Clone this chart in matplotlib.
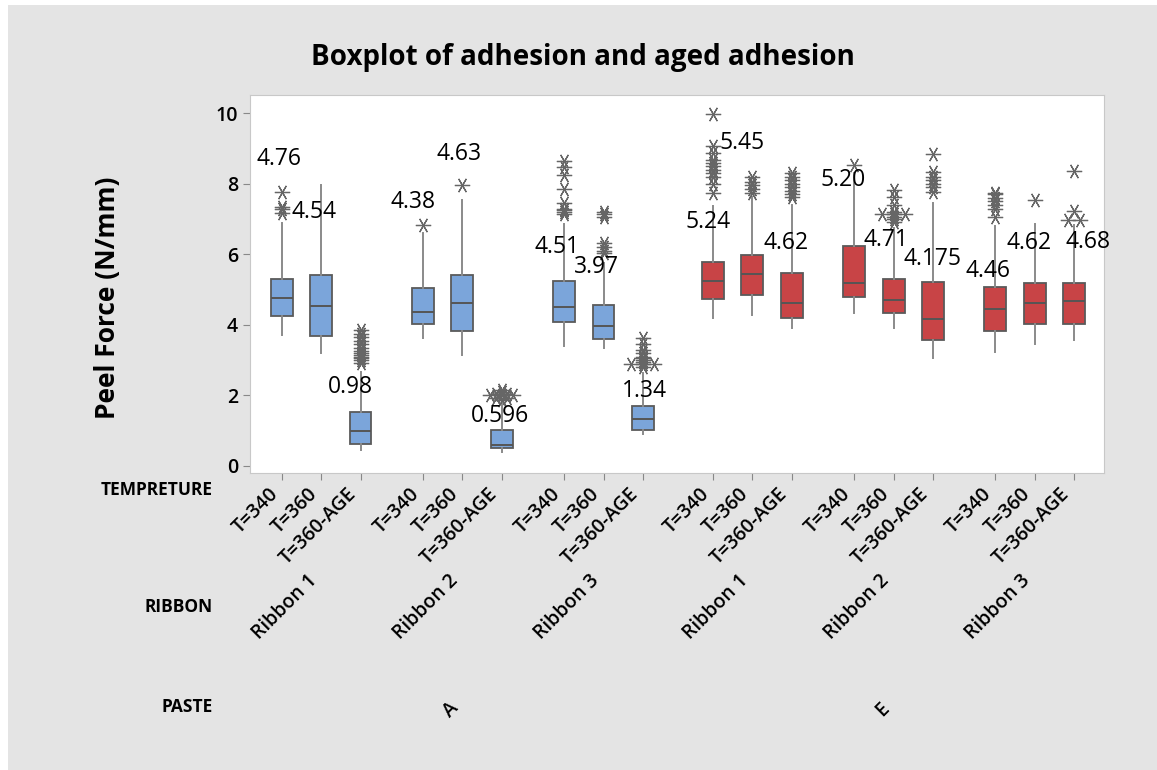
import numpy as np
import matplotlib
matplotlib.use("Agg")
import matplotlib.pyplot as plt
import matplotlib.transforms as mtrans
from matplotlib.patches import Rectangle

plt.rcParams['font.family'] = ['Open Sans', 'DejaVu Sans']

# Factor levels (outer to inner)
pastes = ["A", "E"]
ribbons = ["Ribbon 1", "Ribbon 2", "Ribbon 3"]
temps = ["T=340", "T=360", "T=360-AGE"]

# Box statistics.
# Order: paste A (ribbon 1, 2, 3 x temps), then paste E the same way.
whisLow = [3.71, 3.20, 0.45, 3.62, 3.15, 0.39, 3.41, 3.34, 0.90,
           4.20, 4.29, 3.90, 4.33, 3.90, 3.06, 3.24, 3.46, 3.57]
q1 = [4.24, 3.68, 0.62, 4.02, 3.84, 0.50, 4.07, 3.61, 1.03,
      4.73, 4.85, 4.20, 4.78, 4.35, 3.57, 3.83, 4.02, 4.02]
medians = [4.76, 4.54, 0.98, 4.38, 4.63, 0.596, 4.51, 3.97, 1.34,
           5.24, 5.45, 4.62, 5.20, 4.71, 4.175, 4.46, 4.62, 4.68]
q3 = [5.30, 5.42, 1.52, 5.04, 5.42, 1.03, 5.25, 4.57, 1.71,
      5.79, 5.98, 5.48, 6.25, 5.30, 5.23, 5.08, 5.20, 5.20]
whisHigh = [6.90, 7.98, 2.67, 6.62, 7.54, 1.82, 6.85, 5.75, 2.63,
            7.37, 7.64, 7.40, 8.30, 6.75, 7.45, 6.81, 6.85, 6.83]

outliers = [
    [7.76, 7.33, 7.28, 7.16],
    [],
    [2.93, 3.0, 3.05, 3.1, 3.15, 3.2, 3.27, 3.35, 3.45, 3.55, 3.65, 3.75, 3.86],
    [6.84],
    [7.98],
    [1.87, 1.93, 1.93, 2.0, 2.0, 2.0, 2.05, 2.05, 2.1, 2.15],
    [7.15, 7.2, 7.25, 7.3, 7.45, 7.85, 8.25, 8.47, 8.65],
    [6.03, 6.1, 6.2, 6.31, 7.07, 7.15, 7.21],
    [2.82, 2.9, 2.9, 2.9, 2.95, 3.0, 3.05, 3.1, 3.2, 3.3, 3.45, 3.62],
    [7.75, 7.99, 8.2, 8.3, 8.4, 8.5, 8.6, 8.68, 8.87, 9.07, 9.97],
    [7.73, 7.85, 7.97, 8.05, 8.19],
    [7.64, 7.7, 7.8, 7.9, 8.0, 8.1, 8.2, 8.32],
    [8.53],
    [6.93, 7.0, 7.07, 7.15, 7.15, 7.15, 7.21, 7.4, 7.64, 7.82],
    [7.78, 7.9, 8.0, 8.1, 8.2, 8.34, 8.84],
    [7.07, 7.3, 7.4, 7.5, 7.6, 7.7, 7.73],
    [7.54],
    [6.98, 6.98, 7.24, 8.37],
]

# Median label text and where Minitab put it (height, sideways shift)
labelText = ["4.76", "4.54", "0.98", "4.38", "4.63", "0.596", "4.51", "3.97", "1.34",
             "5.24", "5.45", "4.62", "5.20", "4.71", "4.175", "4.46", "4.62", "4.68"]
labelY = [8.70, 7.21, 2.23, 7.48, 8.84, 1.42, 6.22, 5.65, 2.13,
          6.93, 9.15, 6.33, 8.11, 6.41, 5.87, 5.53, 6.33, 6.36]
labelDx = [-0.09, -0.18, -0.26, -0.26, -0.08, -0.05, -0.18, -0.18, 0.05,
           -0.13, -0.26, -0.15, -0.28, -0.20, 0.0, -0.20, -0.15, 0.36]

pasteColors = {"A": "#7BA5DA", "E": "#C84446"}

# Positions: gap of 0.6 between ribbon groups, 1.0 between pastes
positions = []
boxColors = []
for p, paste in enumerate(pastes):
    for r in range(len(ribbons)):
        for t in range(len(temps)):
            positions.append(p * 11 + r * 3.6 + t)
            boxColors.append(pasteColors[paste])
positions = np.array(positions)

fig = plt.figure(figsize=(11.57, 7.70), dpi=100)
fig.patch.set_facecolor("#E4E4E4")
# white margin on the left and top like the screenshot
fig.patches.append(Rectangle((0, 0), 8 / 1157, 1, transform=fig.transFigure,
                             facecolor="white", edgecolor="none"))
fig.patches.append(Rectangle((0, 1 - 5 / 770), 1, 5 / 770, transform=fig.transFigure,
                             facecolor="white", edgecolor="none"))

ax = fig.add_axes([250 / 1157, 1 - 473 / 770, (1104 - 250) / 1157, (473 - 95) / 770])
ax.set_facecolor("white")

stats = []
for i in range(len(medians)):
    stats.append({"whislo": whisLow[i], "q1": q1[i], "med": medians[i],
                  "q3": q3[i], "whishi": whisHigh[i], "fliers": []})

parts = ax.bxp(stats, positions=positions, widths=0.56, patch_artist=True,
               showcaps=False, showfliers=False,
               boxprops=dict(edgecolor="#5A5A5A", linewidth=1.3),
               medianprops=dict(color="#555555", linewidth=1.4),
               whiskerprops=dict(color="#8A8A8A", linewidth=1.4))
for box, c in zip(parts["boxes"], boxColors):
    box.set_facecolor(c)

# Outliers as Minitab asterisks, tied values put side by side
for i, vals in enumerate(outliers):
    vals = np.array(vals)
    for v in np.unique(vals):
        n = np.sum(vals == v)
        offs = (np.arange(n) - (n - 1) / 2) * 0.3
        ax.plot(positions[i] + offs, [v] * n, linestyle="none",
                marker=(6, 2, 90), markersize=11, markeredgewidth=0.9,
                color="#666666", zorder=3)

# Median labels
for i in range(len(medians)):
    ax.text(positions[i] + labelDx[i], labelY[i], labelText[i], fontsize=16.5,
            ha="center", va="center", color="black", zorder=4)

ax.set_xlim(-0.82, 20.97)
ax.set_ylim(-0.2, 10.52)
ax.set_yticks(np.arange(0, 11, 2))
ax.set_xticks(positions)
ax.set_xticklabels(temps * 6, rotation=45, ha="right", fontsize=14, fontweight="semibold")
for lab in ax.get_yticklabels():
    lab.set_fontsize(14)
    lab.set_fontweight("semibold")
ax.tick_params(axis="both", colors="#888888", length=5, labelcolor="black")
ax.tick_params(axis="x", pad=3)
for s in ax.spines.values():
    s.set_color("#C8C8C8")

# Ribbon and paste levels under the temperature labels
trans = mtrans.blended_transform_factory(ax.transData, fig.transFigure)
for p in range(len(pastes)):
    for r, rib in enumerate(ribbons):
        mid = positions[p * 9 + r * 3 + 1]
        ax.text(mid, 1 - 607 / 770, rib, transform=trans, rotation=45,
                ha="right", va="center", fontsize=14, fontweight="semibold")
    mid = positions[p * 9 + 4]
    ax.text(mid, 1 - 710 / 770, pastes[p], transform=trans, rotation=45,
            ha="right", va="center", fontsize=14, fontweight="semibold")

# Row names on the left
rowFont = dict(ha="right", va="center", fontsize=12.5, fontweight="bold")
fig.text(213 / 1157, 1 - 490 / 770, "TEMPRETURE", **rowFont)
fig.text(213 / 1157, 1 - 607 / 770, "RIBBON", **rowFont)
fig.text(213 / 1157, 1 - 707 / 770, "PASTE", **rowFont)

fig.text(107 / 1157, 1 - 298 / 770, "Peel Force (N/mm)", rotation=90,
         ha="center", va="center", fontsize=19, fontweight="bold")
fig.text(583 / 1157, 1 - 57 / 770, "Boxplot of adhesion and aged adhesion",
         ha="center", va="center", fontsize=20, fontweight="bold")

plt.savefig("out.png", dpi=100, facecolor=fig.get_facecolor())
